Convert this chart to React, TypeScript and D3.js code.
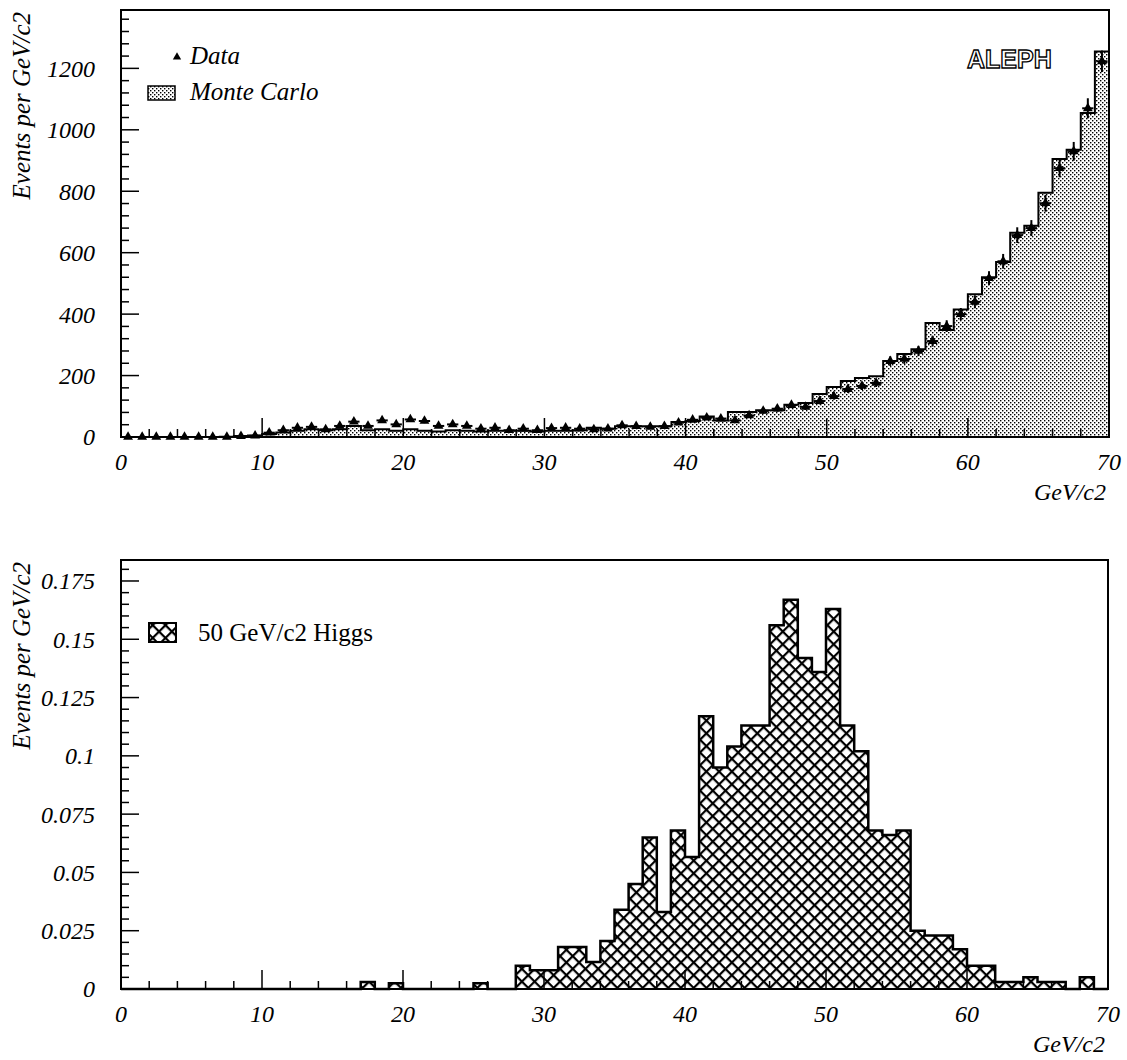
import React from 'react';
import * as d3 from 'd3';

// ---------- data (1 GeV/c2 bins from 0 to 70) ----------
const binLow = d3.range(0, 70);

const mcCounts = [
  0, 0, 0, 0, 0, 0, 0, 1, 3, 5,
  10, 15, 20, 25, 22, 25, 36, 22, 25, 20,
  25, 20, 18, 22, 20, 18, 20, 20, 20, 18,
  20, 20, 22, 30, 27, 35, 35, 35, 35, 49,
  52, 67, 54, 81, 81, 87, 87, 105, 111, 140,
  163, 182, 192, 198, 247, 270, 286, 371, 348, 415,
  465, 520, 570, 665, 688, 795, 905, 935, 1055, 1255,
];

const dataCounts = [
  0, 0, 0, 0, 0, 0, 0, 0, 3, 4,
  14, 22, 30, 33, 25, 36, 50, 36, 54, 41,
  57, 52, 36, 41, 36, 27, 30, 22, 27, 22,
  29, 30, 27, 25, 27, 38, 35, 33, 35, 47,
  56, 63, 60, 54, 70, 85, 92, 104, 98, 117,
  133, 156, 166, 176, 247, 254, 280, 312, 361, 400,
  440, 517, 572, 657, 680, 761, 875, 930, 1070, 1223,
];

const higgsCounts = [
  0, 0, 0, 0, 0, 0, 0, 0, 0, 0,
  0, 0, 0, 0, 0, 0, 0, 0.003, 0, 0.0025,
  0, 0, 0, 0, 0, 0.0025, 0, 0, 0.01, 0.008,
  0.008, 0.018, 0.018, 0.0116, 0.0206, 0.034, 0.045, 0.065, 0.033, 0.068,
  0.0566, 0.117, 0.095, 0.104, 0.113, 0.113, 0.156, 0.167, 0.142, 0.136,
  0.163, 0.113, 0.102, 0.068, 0.066, 0.068, 0.025, 0.023, 0.023, 0.017,
  0.01, 0.01, 0.003, 0.003, 0.005, 0.003, 0.003, 0, 0.005, 0,
];

const xTickValues = [0, 10, 20, 30, 40, 50, 60, 70];
const topYTickValues = [0, 200, 400, 600, 800, 1000, 1200];
const botYTickValues = [0, 0.025, 0.05, 0.075, 0.1, 0.125, 0.15, 0.175];
const botYTickLabels = ['0', '0.025', '0.05', '0.075', '0.1', '0.125', '0.15', '0.175'];

const yTitle = 'Events per GeV/c2';
const xTitle = 'GeV/c2';

// ---------- helpers ----------
const serif = "'Liberation Serif', 'Times New Roman', serif";

function histPath(vals: number[], x: d3.ScaleLinear<number, number>, y: d3.ScaleLinear<number, number>) {
  const pts: [number, number][] = [[0, 0]];
  vals.forEach((v, i) => {
    pts.push([i, v]);
    pts.push([i + 1, v]);
  });
  pts.push([vals.length, 0]);
  return d3.line<[number, number]>().x((d) => x(d[0])).y((d) => y(d[1]))(pts) || '';
}

type Box = { l: number; r: number; t: number; b: number };

function Axes({ box, x, y, xMinorStep, yMajor, yMinorStep, yLabels, yMax }: any) {
  const xMinor = d3.range(0, 70.001, xMinorStep);
  const yMinor = d3.range(0, yMax, yMinorStep);
  return (
    <g>
      <rect x={box.l} y={box.t} width={box.r - box.l} height={box.b - box.t} fill="none" stroke="#000" strokeWidth={2} />
      {xMinor.map((v: number) => {
        const major = Math.abs(v / 10 - Math.round(v / 10)) < 1e-6;
        return (
          <line key={'xm' + v} x1={x(v)} x2={x(v)} y1={box.b} y2={box.b - (major ? 19 : 8)} stroke="#000" strokeWidth={1.5} />
        );
      })}
      {yMinor.map((v: number, i: number) => {
        const major = yMajor.some((m: number) => Math.abs(m - v) < yMinorStep / 10);
        return (
          <line key={'ym' + i} x1={box.l} x2={box.l + (major ? 18 : 8)} y1={y(v)} y2={y(v)} stroke="#000" strokeWidth={1.5} />
        );
      })}
      {xTickValues.map((v) => (
        <text key={'xl' + v} x={x(v)} y={box.b + 33} textAnchor="middle" fontFamily={serif} fontStyle="italic" fontSize={24}>
          {v}
        </text>
      ))}
      {yMajor.map((v: number, i: number) => (
        <text key={'yl' + i} x={95} y={y(v)} dy="0.35em" textAnchor="end" fontFamily={serif} fontStyle="italic" fontSize={24}>
          {yLabels[i]}
        </text>
      ))}
      <text transform={`translate(30,${box.t + 2}) rotate(-90)`} textAnchor="end" fontFamily={serif} fontStyle="italic" fontSize={25}>
        {yTitle}
      </text>
      <text x={box.r - 3} y={box.b + 63} textAnchor="end" fontFamily={serif} fontStyle="italic" fontSize={24}>
        {xTitle}
      </text>
    </g>
  );
}

export default function App() {
  const W = 1127;
  const H = 1060;
  const top: Box = { l: 121, r: 1109, t: 10, b: 437 };
  const bot: Box = { l: 121, r: 1108, t: 560, b: 989 };

  const xT = d3.scaleLinear().domain([0, 70]).range([top.l, top.r]);
  const yT = d3.scaleLinear().domain([0, 1390]).range([top.b, top.t]);
  const xB = d3.scaleLinear().domain([0, 70]).range([bot.l, bot.r]);
  const yB = d3.scaleLinear().domain([0, 0.184]).range([bot.b, bot.t]);

  const tri = d3.symbol().type(d3.symbolTriangle).size(42)() || '';

  return (
    <svg width={W} height={H} style={{ position: 'absolute', left: 0, top: 0, background: '#fff' }}>
      <defs>
        <pattern id="stipple" width={4} height={4} patternUnits="userSpaceOnUse">
          <rect width={4} height={4} fill="#fff" />
          <rect x={0} y={0} width={1.4} height={1.4} fill="#000" />
          <rect x={2} y={2} width={1.4} height={1.4} fill="#000" />
        </pattern>
        <pattern id="xhatch" width={9} height={9} patternUnits="userSpaceOnUse" patternTransform="rotate(45)">
          <rect width={9} height={9} fill="#fff" />
          <rect x={0} y={0} width={9} height={2.2} fill="#000" />
          <rect x={0} y={0} width={2.2} height={9} fill="#000" />
        </pattern>
      </defs>
      <rect width={W} height={H} fill="#fff" />

      {/* ---------- top panel ---------- */}
      <path d={histPath(mcCounts, xT, yT)} fill="url(#stipple)" stroke="#000" strokeWidth={2} />
      <g>
        {binLow.map((b) => {
          const v = dataCounts[b];
          const cx = xT(b + 0.5);
          const cy = yT(v);
          const err = Math.sqrt(v);
          return (
            <g key={'d' + b}>
              {v > 0 && (
                <line x1={cx} x2={cx} y1={yT(v + err)} y2={yT(Math.max(0, v - err))} stroke="#000" strokeWidth={2} />
              )}
              <line x1={xT(b + 0.1)} x2={xT(b + 0.9)} y1={cy} y2={cy} stroke="#000" strokeWidth={2} />
              <path d={tri} transform={`translate(${cx},${cy})`} fill="#000" />
            </g>
          );
        })}
      </g>
      <Axes box={top} x={xT} y={yT} xMinorStep={2} yMajor={topYTickValues} yMinorStep={40}
        yLabels={topYTickValues.map(String)} yMax={1390} />

      {/* top legend */}
      <path d={d3.symbol().type(d3.symbolTriangle).size(30)() || ''} transform="translate(177,57)" fill="#000" />
      <text x={190} y={64} fontFamily={serif} fontStyle="italic" fontSize={25}>Data</text>
      <rect x={148} y={86} width={27} height={14} fill="url(#stipple)" stroke="#000" strokeWidth={1.5} />
      <text x={190} y={100} fontFamily={serif} fontStyle="italic" fontSize={25}>Monte Carlo</text>
      <text x={967} y={68} fontFamily="'Liberation Sans', Arial, sans-serif" fontWeight="bold" fontSize={25}
        fill="#fff" stroke="#000" strokeWidth={1.3}>ALEPH</text>

      {/* ---------- bottom panel ---------- */}
      <path d={histPath(higgsCounts, xB, yB)} fill="url(#xhatch)" stroke="#000" strokeWidth={2.5} />
      <Axes box={bot} x={xB} y={yB} xMinorStep={2} yMajor={botYTickValues} yMinorStep={0.005}
        yLabels={botYTickLabels} yMax={0.184} />

      {/* bottom legend */}
      <rect x={149} y={623} width={27} height={19} fill="url(#xhatch)" stroke="#000" strokeWidth={2} />
      <text x={198} y={641} fontFamily={serif} fontSize={25}>50 GeV/c2 Higgs</text>
    </svg>
  );
}
